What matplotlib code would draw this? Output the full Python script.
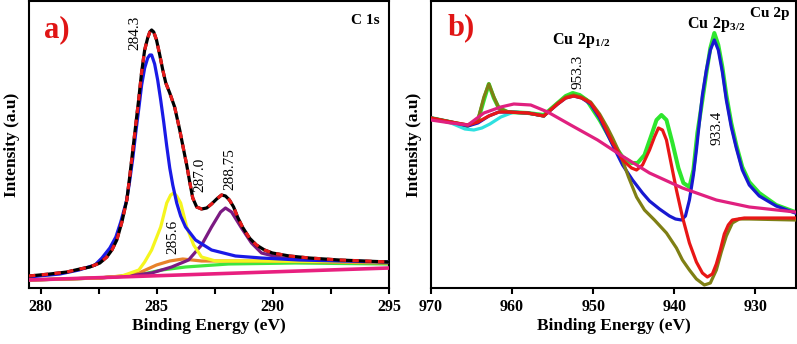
import matplotlib
matplotlib.use("Agg")
import matplotlib.pyplot as plt
from matplotlib.ticker import MultipleLocator

plt.rcParams['font.family'] = ['Liberation Serif', 'DejaVu Serif']
plt.rcParams['mathtext.fontset'] = 'custom'
plt.rcParams['mathtext.rm'] = 'Liberation Serif'
plt.rcParams['mathtext.bf'] = 'Liberation Serif:bold'

# ---------------- Panel a) C 1s ----------------
c1s_env_x = [279.50, 280.40, 281.13, 281.69, 282.12, 282.55, 282.85, 283.07, 283.28, 283.50,
             283.71, 283.84, 283.97, 284.10, 284.23, 284.35, 284.48, 284.61, 284.70, 284.78,
             284.87, 284.99, 285.13, 285.26, 285.39, 285.56, 285.77, 285.99, 286.16, 286.29,
             286.42, 286.55, 286.72, 286.93, 287.15, 287.36, 287.58, 287.79, 287.96, 288.13,
             288.31, 288.48, 288.69, 288.99, 289.29, 289.64, 289.98, 290.71, 291.57, 292.86, 295.0]
c1s_env_y = [12, 14, 16, 19, 21, 25, 31, 38, 48, 66,
             88, 112, 138, 164, 190, 216, 238, 250, 256, 258,
             256, 248, 233, 218, 205, 195, 181, 158, 138, 123,
             106, 90, 81, 79, 80, 84, 89, 93, 92, 88,
             81, 71, 61, 50, 43, 38, 35, 32, 30, 28, 26]

c1s_blue_x = [279.50, 280.83, 281.65, 282.34, 282.64, 282.98, 283.24, 283.45, 283.71, 283.84,
              283.97, 284.10, 284.23, 284.35, 284.48, 284.61, 284.70, 284.78, 284.91, 285.04,
              285.17, 285.30, 285.43, 285.56, 285.69, 285.86, 286.03, 286.24, 286.67, 287.36,
              288.39, 289.51, 291.14, 292.86, 295.0]
c1s_blue_y = [11, 14, 18, 23, 30, 40, 51, 66, 88, 108,
              130, 156, 180, 203, 220, 230, 233, 233, 224, 208,
              188, 166, 142, 120, 103, 85, 72, 61, 48, 38,
              32, 30, 28, 27, 26]

c1s_yellow_x = [279.50, 282.50, 283.50, 284.23, 284.48, 284.78, 285.17, 285.43, 285.60, 285.73,
                285.86, 286.03, 286.29, 286.59, 286.93, 287.53, 289.42, 295.0]
c1s_yellow_y = [8, 10, 12, 18, 26, 38, 61, 85, 93, 95, 92, 85, 61, 43, 31, 27, 27, 26]

c1s_purple_x = [279.50, 282.50, 283.80, 284.78, 285.64, 286.37, 286.93, 287.36, 287.75, 287.96,
                288.22, 288.65, 289.08, 289.51, 290.37, 292.39, 295.0]
c1s_purple_y = [8, 10, 12, 15, 21, 28, 43, 61, 76, 80, 76, 60, 45, 35, 30, 27, 26]

c1s_orange_x = [279.50, 282.50, 283.50, 284.23, 284.99, 285.56, 286.12, 286.93, 289.51, 295.0]
c1s_orange_y = [8, 10, 12, 15, 23, 27, 29, 27, 27, 25]

c1s_green_x = [279.50, 282.50, 283.07, 284.23, 285.21, 286.24, 288.09, 290.97, 295.0]
c1s_green_y = [8, 10, 11, 13, 18, 21, 24, 25, 24]

c1s_pink_x = [279.5, 295.0]
c1s_pink_y = [8, 20]

c1s_ticks = [280, 285, 290, 295]

# ---------------- Panel b) Cu 2p ----------------
cu_green_x = [970.0, 967.66, 965.57, 964.22, 963.48, 962.87, 962.25, 961.64, 960.53, 958.07,
              956.10, 954.38, 953.39, 952.53, 951.67, 950.81, 949.21, 947.61, 946.38, 945.28,
              944.54, 943.68, 942.82, 942.20, 941.59, 940.97, 940.23, 939.50, 938.88, 938.14,
              937.65, 937.16, 936.54, 936.05, 935.56, 935.07, 934.58, 934.08, 933.59, 932.98,
              932.36, 931.62, 930.76, 929.53, 927.44, 925.10]
cu_green_y = [170, 166, 162, 167, 188, 204, 190, 180, 176, 175,
              173, 185, 192, 195, 193, 188, 168, 145, 131, 125,
              125, 133, 153, 168, 173, 168, 145, 120, 105, 101,
              118, 155, 188, 215, 240, 255, 243, 221, 193, 165,
              143, 121, 106, 95, 83, 76]

cu_cyan_x = [970.0, 967.54, 965.82, 964.71, 963.73, 962.74, 961.39, 959.79, 958.07, 956.10]
cu_cyan_y = [170, 165, 159, 158, 160, 164, 171, 176, 175, 172]

cu_blue_x = [970.0, 967.54, 965.45, 964.22, 962.87, 961.64, 960.53, 958.07, 956.10, 954.38,
             953.39, 952.41, 951.43, 950.32, 949.21, 947.61, 946.38, 945.15, 943.92, 943.06,
             941.83, 940.60, 939.86, 939.13, 938.63, 938.14, 937.65, 937.28, 936.91, 936.54,
             936.05, 935.56, 935.07, 934.58, 934.08, 933.59, 932.98, 932.36, 931.62, 930.76,
             929.53, 927.44, 925.10]
cu_blue_y = [170, 166, 162, 165, 172, 176, 176, 175, 172, 184,
             190, 192, 190, 184, 170, 143, 123, 108, 95, 87,
             79, 72, 69, 68, 72, 88, 113, 138, 166, 193,
             218, 238, 248, 238, 216, 188, 161, 140, 118, 103,
             92, 82, 75]

cu_olive_x = [970.0, 967.54, 965.45, 964.22, 963.48, 962.87, 962.25, 961.64, 960.53, 958.07,
              956.10, 954.38, 953.39, 952.41, 951.43, 950.32, 949.21, 948.23, 947.61, 946.63,
              945.65, 944.66, 943.68, 942.45, 940.97, 939.74, 939.00, 938.14, 937.28, 936.30,
              935.56, 934.82, 934.21, 933.59, 932.85, 931.99, 930.76, 925.10]
cu_olive_y = [170, 166, 163, 168, 191, 204, 191, 180, 176, 175,
              172, 185, 191, 193, 191, 186, 174, 160, 150, 133,
              111, 91, 78, 68, 55, 40, 28, 18, 9, 3,
              5, 18, 36, 52, 65, 69, 69, 68]

cu_red_x = [970.0, 967.54, 965.45, 964.22, 962.87, 961.64, 960.53, 958.07, 956.10, 954.38,
            953.39, 952.41, 951.43, 950.32, 949.21, 947.61, 946.38, 945.28, 944.66, 943.92,
            943.06, 942.45, 941.96, 941.46, 940.97, 940.36, 939.74, 939.00, 938.14, 937.28,
            936.54, 935.93, 935.31, 934.82, 934.33, 933.84, 933.35, 932.85, 931.38, 925.10]
cu_red_y = [170, 166, 163, 166, 172, 176, 176, 175, 172, 184,
            190, 192, 190, 185, 172, 145, 128, 120, 118, 123,
            138, 151, 160, 158, 148, 123, 98, 71, 45, 26,
            15, 11, 14, 24, 38, 54, 63, 68, 70, 70]

cu_pink_x = [970.0, 967.54, 965.45, 963.48, 961.39, 959.79, 957.70, 955.61, 952.78, 949.46,
             946.63, 943.06, 939.00, 934.82, 930.76, 925.10]
cu_pink_y = [168, 165, 163, 175, 181, 184, 183, 176, 163, 148,
             133, 115, 100, 88, 81, 76]

cu_ticks = [970, 960, 950, 940, 930]

# ---------------- Figure ----------------
W, H = 797, 344
fig = plt.figure(figsize=(W / 100, H / 100), dpi=100)
axA = fig.add_axes([29 / W, (H - 288) / H, 360 / W, 287 / H])
axB = fig.add_axes([431 / W, (H - 288) / H, 365 / W, 287 / H])

LW = 2.3
bold = dict(fontweight='bold')

# panel a
axA.plot(c1s_green_x, c1s_green_y, color='#3ee63e', lw=LW, zorder=2)
axA.plot(c1s_orange_x, c1s_orange_y, color='#e8822a', lw=LW, zorder=2.5)
axA.plot(c1s_purple_x, c1s_purple_y, color='#7b1a82', lw=LW, zorder=3)
axA.plot(c1s_yellow_x, c1s_yellow_y, color='#f5f51e', lw=LW, zorder=3)
axA.plot(c1s_blue_x, c1s_blue_y, color='#1a1ae6', lw=LW, zorder=3.5)
axA.plot(c1s_pink_x, c1s_pink_y, color='#e8207f', lw=LW + 0.3, zorder=4)
axA.plot(c1s_env_x, c1s_env_y, color='black', lw=LW, zorder=5)
env, = axA.plot(c1s_env_x, c1s_env_y, color='#e81a1a', lw=LW, zorder=6)
env.set_dashes([2.0, 2.0])

axA.set_xlim(279.5, 295)
axA.set_ylim(0, 287)
axA.set_xticks(c1s_ticks)
axA.xaxis.set_minor_locator(MultipleLocator(2.5))
axA.set_yticks([])

axA.text(284.05, 255, '284.3', rotation=90, ha='center', va='center', fontsize=11)
axA.text(286.84, 113, '287.0', rotation=90, ha='center', va='center', fontsize=11)
axA.text(288.13, 119, '288.75', rotation=90, ha='center', va='center', fontsize=11)
axA.text(285.68, 51, '285.6', rotation=90, ha='center', va='center', fontsize=11)
axA.text(294.0, 267, 'C 1s', ha='center', va='center', fontsize=11, **bold)
axA.text(280.7, 258, 'a)', ha='center', va='center', fontsize=22, color='#e01515', **bold)
axA.set_xlabel('Binding Energy (eV)', fontsize=12.5, **bold)
axA.set_ylabel('Intensity (a.u)', fontsize=12.5, **bold)

# panel b
axB.plot(cu_green_x, cu_green_y, color='#2ee62e', lw=LW + 0.6, zorder=2)
axB.plot(cu_cyan_x, cu_cyan_y, color='#2ee0e0', lw=LW, zorder=2)
axB.plot(cu_blue_x, cu_blue_y, color='#1818d0', lw=LW, zorder=3)
axB.plot(cu_olive_x, cu_olive_y, color='#7f7f14', lw=LW, zorder=4)
axB.plot(cu_red_x, cu_red_y, color='#e81616', lw=LW, zorder=5)
axB.plot(cu_pink_x, cu_pink_y, color='#e0207f', lw=LW, zorder=6)

axB.set_xlim(970, 925)
axB.set_ylim(0, 287)
axB.set_xticks(cu_ticks)
axB.set_yticks([])

axB.text(951.9, 216, '953.3', rotation=90, ha='center', va='center', fontsize=11)
axB.text(934.7, 160, '933.4', rotation=90, ha='center', va='center', fontsize=11)
axB.text(951.5, 248, r'$\mathbf{Cu\ 2p_{1/2}}$', ha='center', va='center', fontsize=11.5)
axB.text(934.8, 263, r'$\mathbf{Cu\ 2p_{3/2}}$', ha='center', va='center', fontsize=11.5)
axB.text(928.2, 275, 'Cu 2p', ha='center', va='center', fontsize=11, **bold)
axB.text(966.3, 260, 'b)', ha='center', va='center', fontsize=22, color='#e01515', **bold)
axB.set_xlabel('Binding Energy (eV)', fontsize=12.5, **bold)
axB.set_ylabel('Intensity (a.u)', fontsize=12.5, **bold)

for ax in (axA, axB):
    for s in ax.spines.values():
        s.set_linewidth(1.5)
    ax.tick_params(axis='x', which='both', direction='out', length=4, width=1.5, pad=4)
    for lab in ax.get_xticklabels():
        lab.set_fontweight('bold')
        lab.set_fontsize(11.5)
    ax.xaxis.set_label_coords(0.5, -0.105)
axA.yaxis.set_label_coords(-0.024, 0.5)
axB.yaxis.set_label_coords(-0.026, 0.5)

fig.savefig('out.png', dpi=100)
